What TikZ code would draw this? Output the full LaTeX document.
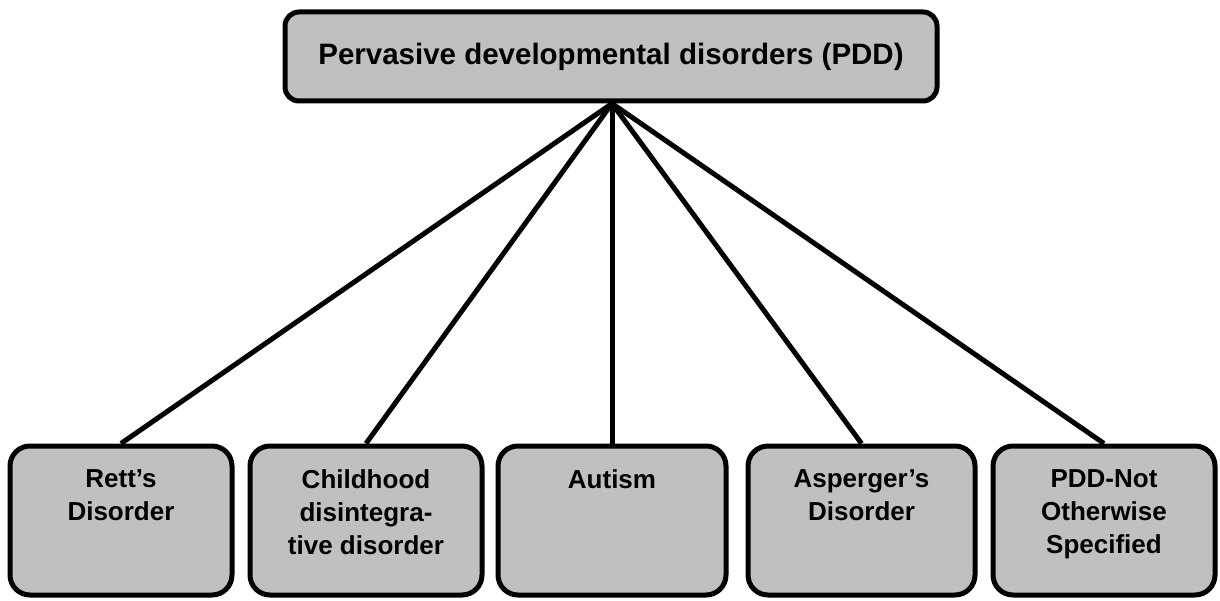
\documentclass[tikz,border=0pt]{standalone}
\usepackage{fontspec}
\setmainfont{Liberation Sans}
\usetikzlibrary{backgrounds}
\definecolor{boxgray}{RGB}{192,192,192}
\begin{document}
\begin{tikzpicture}[x=1pt,y=-1pt,
  box/.style={draw=black,fill=boxgray,line width=5pt,rounded corners=20pt,
    minimum height=149pt,inner sep=0pt},
  topbox/.style={draw=black,fill=boxgray,line width=5pt,rounded corners=14pt,
    minimum width=652pt,minimum height=89pt,inner sep=0pt,
    font=\fontsize{29.5}{34}\selectfont\bfseries},
  lbl/.style={align=center,anchor=north,inner sep=0pt,
    font=\fontsize{26}{33}\selectfont\bfseries},
  conn/.style={line width=5pt}
]
\useasboundingbox (0,0) rectangle (1220,601);
\node[topbox] (top) at (611,56.5) {Pervasive developmental disorders (PDD)};
\node[box,minimum width=222pt] (b1) at (121,520.5) {};
\node[box,minimum width=232pt] (b2) at (366,520.5) {};
\node[box,minimum width=228pt] (b3) at (612,520.5) {};
\node[box,minimum width=227pt] (b4) at (861.5,520.5) {};
\node[box,minimum width=222pt] (b5) at (1104,520.5) {};
\node[lbl] (t1) at ([yshift=-26pt]b1.north) {Rett's\\Disorder};
\node[lbl] (t2) at ([yshift=-26pt]b2.north) {Childhood\\disintegra-\\tive disorder};
\node[lbl] (t3) at ([yshift=-26pt]b3.north) {Autism};
\node[lbl] (t4) at ([yshift=-26pt]b4.north) {Asperger's\\Disorder};
\node[lbl] (t5) at ([yshift=-26pt]b5.north) {PDD-Not\\Otherwise\\Specified};
\coordinate (hub) at (top.south -| b3.north);
\begin{scope}[on background layer]
\foreach \b in {b1,b2,b3,b4,b5}{
  \draw[conn] (hub) -- (\b.north);
}
\end{scope}
\end{tikzpicture}
\end{document}
